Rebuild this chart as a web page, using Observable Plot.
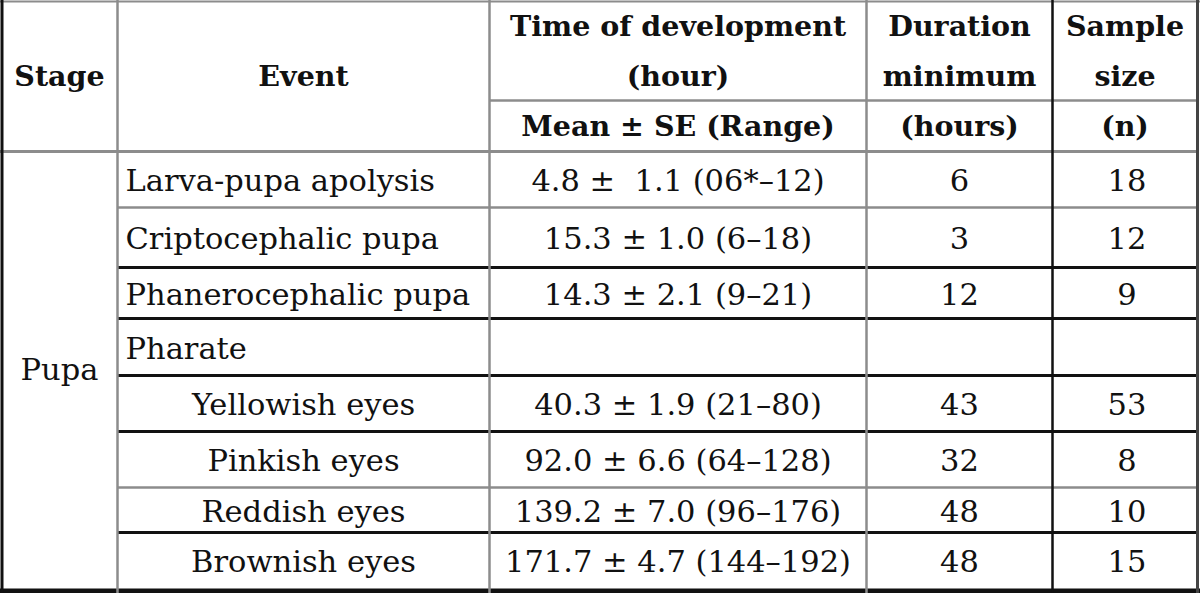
<!DOCTYPE html>
<html><head><meta charset="utf-8">
<script src="https://cdn.jsdelivr.net/npm/d3@7"></script>
<script src="https://cdn.jsdelivr.net/npm/@observablehq/plot@0.6"></script>
<style>
html,body{margin:0;padding:0;background:#fff;}
#chart svg{display:block;}
</style>
</head><body><div id="chart"></div>
<script>
// ---- table content ----
const columnHeaders = [["Stage"], ["Event"], ["Time of development", "(hour)"], ["Duration", "minimum", "(hours)"], ["Sample", "size", "(n)"]];
const timeSubHeader = "Mean ± SE (Range)";
const stageName = "Pupa";
const events = ["Larva-pupa apolysis", "Criptocephalic pupa", "Phanerocephalic pupa", "Pharate", "Yellowish eyes", "Pinkish eyes", "Reddish eyes", "Brownish eyes"];
const eventLevel = [0, 0, 0, 0, 1, 1, 1, 1];
const meanHours = [4.8, 15.3, 14.3, null, 40.3, 92.0, 139.2, 171.7];
const seHours = [1.1, 1.0, 2.1, null, 1.9, 6.6, 7.0, 4.7];
const rangeLow = ["06*", "6", "9", null, "21", "64", "96", "144"];
const rangeHigh = ["12", "18", "21", null, "80", "128", "176", "192"];
const durationMinimum = [6, 3, 12, null, 43, 32, 48, 48];
const sampleSize = [18, 12, 9, null, 53, 8, 10, 15];

// ---- layout (pixels of the 1200x593 frame) ----
const W = 1200, H = 593;
const colEdges = [1, 117, 489, 866, 1052, 1197];
const headerMid = 100, headerBottom = 151;
const rowEdges = [151, 207, 267, 318, 375, 431, 487, 532, 588];
const heavySeparator = [false, true, true, true, true, false, true]; // lines between body rows
const FONT = "DejaVu Serif";
const HEAD_SIZE = 28.5, BODY_SIZE = 30.5;
const INK = "#111";
const GRAY = "#8c8c8c";
const colMid = i => (colEdges[i] + colEdges[i + 1]) / 2;

const headerCells = [
  {text: columnHeaders[0].join("\n"), x: colMid(0), y: 69},
  {text: columnHeaders[1].join("\n"), x: colMid(1), y: 69},
  {text: columnHeaders[2].join("\n"), x: colMid(2), y: 44},
  {text: timeSubHeader, x: colMid(2), y: 119},
  {text: columnHeaders[3].join("\n"), x: colMid(3), y: 69},
  {text: columnHeaders[4].join("\n"), x: colMid(4), y: 69}
];

const rows = events.map((ev, i) => ({
  event: ev,
  level: eventLevel[i],
  time: meanHours[i] == null ? "" :
    `${meanHours[i].toFixed(1)} ±${i === 0 ? "\u00a0 " : " "}${seHours[i].toFixed(1)} (${rangeLow[i]}–${rangeHigh[i]})`,
  dur: durationMinimum[i] == null ? "" : String(durationMinimum[i]),
  n: sampleSize[i] == null ? "" : String(sampleSize[i]),
  y: (rowEdges[i] + rowEdges[i + 1]) / 2 + 2
}));

const hLines = [
  {y: 1, x1: 0, x2: W, stroke: GRAY, w: 2},
  {y: headerMid, x1: colEdges[2], x2: colEdges[5], stroke: GRAY, w: 2.5},
  {y: headerBottom, x1: 0, x2: colEdges[5], stroke: GRAY, w: 3},
  ...heavySeparator.map((heavy, k) => ({y: rowEdges[k + 1], x1: colEdges[1], x2: colEdges[5], stroke: heavy ? INK : GRAY, w: heavy ? 3 : 2.5})),
  {y: 590.5, x1: 0, x2: W, stroke: INK, w: 5}
];
const vLines = [
  {x: 1.5, stroke: INK, w: 3},
  {x: colEdges[1], stroke: GRAY, w: 2.5},
  {x: colEdges[2], stroke: GRAY, w: 2.5},
  {x: colEdges[3], stroke: GRAY, w: 2.5},
  {x: colEdges[4], stroke: INK, w: 2.5},
  {x: colEdges[5], stroke: "#444", w: 3}
];

const chart = Plot.plot({
  width: W, height: H, margin: 0,
  x: {domain: [0, W], range: [0, W], axis: null},
  y: {domain: [0, H], range: [0, H], axis: null},
  marks: [
    Plot.ruleY(hLines, {y: "y", x1: "x1", x2: "x2", stroke: d => d.stroke, strokeWidth: d => d.w}),
    Plot.ruleX(vLines, {x: "x", y1: 0, y2: H, stroke: d => d.stroke, strokeWidth: d => d.w}),
    Plot.text(headerCells, {x: "x", y: "y", text: "text", fontWeight: "bold", fontSize: HEAD_SIZE, lineHeight: 50 / HEAD_SIZE, fontFamily: FONT, fill: INK}),
    Plot.text([stageName], {x: colMid(0), y: (rowEdges[0] + rowEdges[rowEdges.length - 1]) / 2, text: d => d, fontSize: BODY_SIZE, fontFamily: FONT, fill: INK}),
    Plot.text(rows.filter(d => d.level === 0), {x: colEdges[1] + 8, y: "y", text: "event", textAnchor: "start", fontSize: BODY_SIZE, fontFamily: FONT, fill: INK}),
    Plot.text(rows.filter(d => d.level === 1), {x: colMid(1), y: "y", text: "event", fontSize: BODY_SIZE, fontFamily: FONT, fill: INK}),
    Plot.text(rows, {x: colMid(2), y: "y", text: "time", fontSize: BODY_SIZE, fontFamily: FONT, fill: INK}),
    Plot.text(rows, {x: colMid(3), y: "y", text: "dur", fontSize: BODY_SIZE, fontFamily: FONT, fill: INK}),
    Plot.text(rows, {x: colMid(4) + 2, y: "y", text: "n", fontSize: BODY_SIZE, fontFamily: FONT, fill: INK})
  ]
});
document.getElementById("chart").append(chart);
</script>
</body></html>
